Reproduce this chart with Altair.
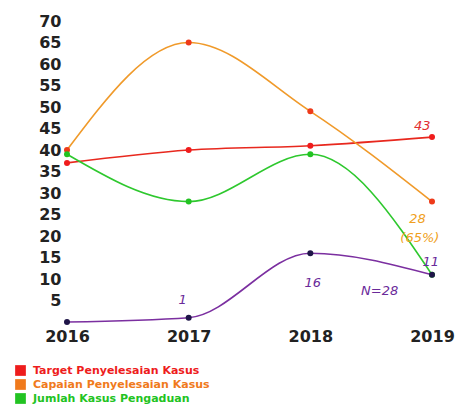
import altair as alt
import pandas as pd

years = [2016, 2017, 2018, 2019]
series_names = [
    "Target Penyelesaian Kasus",
    "Capaian Penyelesaian Kasus",
    "Jumlah Kasus Pengaduan",
    "Kasus Berproses",
]
target = [37, 40, 41, 43]
capaian = [40, 65, 49, 28]
jumlah = [39, 28, 39, 11]
berproses = [0, 1, 16, 11]
y_ticks = [5, 10, 15, 20, 25, 30, 35, 40, 45, 50, 55, 60, 65, 70]

line_colors = ["#e8281e", "#f09a2a", "#2ec82e", "#7b2fa0"]
point_colors = ["#f01c1c", "#ee3a1a", "#22c322", "#1f1548"]
legend_colors = ["#ee1c1c", "#f07a1c", "#22c322", "#4a1a8a"]

# handwritten annotations (data coordinates)
ann_text = ["43", "28", "(65%)", "11", "16", "1", "N=28"]
ann_x = [2018.92, 2018.88, 2018.90, 2018.99, 2018.02, 2016.95, 2018.57]
ann_y = [45.5, 24.0, 19.6, 13.9, 9.0, 5.2, 7.1]
ann_color = ["#e23030", "#f0a020", "#f0a020", "#6a2a9a", "#6a2a9a", "#6a2a9a", "#6a2a9a"]

rows = []
for name, vals in zip(series_names, [target, capaian, jumlah, berproses]):
    for y, v in zip(years, vals):
        rows.append({"year": y, "value": v, "series": name})
df = pd.DataFrame(rows)

ann = pd.DataFrame({"text": ann_text, "x": ann_x, "y": ann_y, "c": ann_color})

label_expr = " : ".join(
    [f"datum.label == '{n}' ? '{c}'" for n, c in zip(series_names[:-1], legend_colors[:-1])]
) + f" : '{legend_colors[-1]}'"

x_scale = alt.Scale(domain=[2016, 2019], nice=False, zero=False)
y_scale = alt.Scale(domain=[0, 70], nice=False, zero=False)

x_enc = alt.X(
    "year:Q",
    scale=x_scale,
    axis=alt.Axis(
        values=years, tickCount=len(years), format="d", title=None, domain=False,
        ticks=False, grid=False,
        labelFont="DejaVu Sans", labelFontWeight="bold", labelFontSize=16,
        labelColor="#222222", labelPadding=6, labelFlush=False, labelOverlap=False,
    ),
)
y_enc = alt.Y(
    "value:Q",
    scale=y_scale,
    axis=alt.Axis(
        values=y_ticks, tickCount=len(y_ticks) + 1, title=None, domain=False,
        ticks=False, grid=False,
        labelFont="DejaVu Sans", labelFontWeight="bold", labelFontSize=16,
        labelColor="#222222", labelPadding=6, labelOverlap=False,
    ),
)

lines = alt.Chart(df).mark_line(interpolate="monotone", strokeWidth=1.6).encode(
    x=x_enc,
    y=y_enc,
    color=alt.Color(
        "series:N",
        scale=alt.Scale(domain=series_names, range=line_colors),
        legend=None,
    ),
)

legend_layer = alt.Chart(df).mark_square(size=0, opacity=0).encode(
    x="year:Q",
    y="value:Q",
    fill=alt.Fill(
        "series:N",
        sort=series_names,
        scale=alt.Scale(domain=series_names, range=legend_colors),
        legend=alt.Legend(
            title=None, orient="none", legendX=-52, legendY=344,
            symbolType="square", symbolSize=115, symbolOpacity=1, symbolStrokeWidth=0,
            labelFont="DejaVu Sans", labelFontWeight="bold", labelFontSize=11,
            labelColor=alt.ExprRef(expr=label_expr), labelLimit=0,
            rowPadding=2, labelOffset=7,
        ),
    ),
)

points = alt.Chart(df).mark_circle(size=36, opacity=1).encode(
    x="year:Q",
    y="value:Q",
    color=alt.Color("series:N", scale=alt.Scale(domain=series_names, range=point_colors), legend=None),
)

texts = alt.Chart(ann).mark_text(font="DejaVu Sans", fontSize=13, fontStyle="italic").encode(
    x="x:Q",
    y="y:Q",
    text="text:N",
    color=alt.Color("c:N", scale=None),
)

chart = alt.layer(lines, legend_layer, points, texts).resolve_scale(
    color="independent", fill="independent"
).properties(
    width=365,
    height=301,
    padding={"left": 59, "top": 13, "right": 23, "bottom": 85},
    autosize=alt.AutoSizeParams(type="none"),
).configure_view(stroke=None)

chart.save("out.html", embed_options={"renderer": "svg", "actions": False})
